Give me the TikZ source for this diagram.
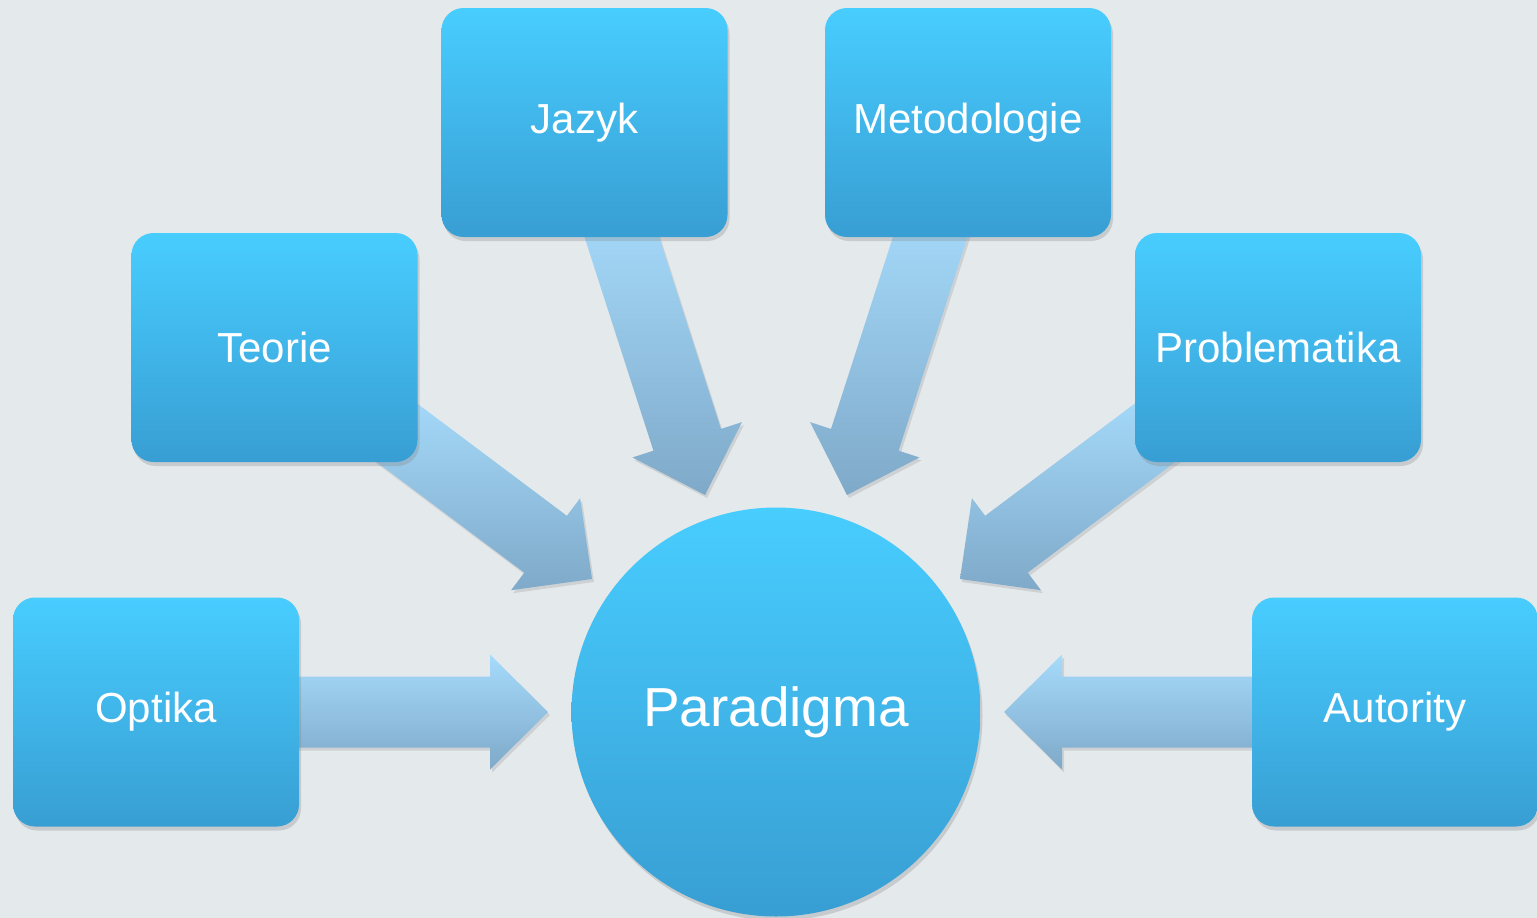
\documentclass[tikz,border=0pt]{standalone}
\usepackage{fontspec}
\setmainfont{Liberation Sans}
\usetikzlibrary{calc,shadows}
\definecolor{bg}{HTML}{E4E9EC}
\definecolor{boxtop}{HTML}{48CDFF}
\definecolor{boxbot}{HTML}{389ED3}
\definecolor{arrtop}{HTML}{A6DBFB}
\definecolor{arrbot}{HTML}{7FA9C9}
\tikzset{
  box/.style={rectangle, rounded corners=22pt, minimum width=286pt, minimum height=229pt,
    inner sep=0pt, top color=boxtop, bottom color=boxbot, draw=none, text=white,
    font=\fontsize{42}{50}\selectfont,
    drop shadow={shadow xshift=2pt, shadow yshift=-4pt, opacity=0.28}},
  hub/.style={circle, minimum size=409pt, inner sep=0pt, top color=boxtop, bottom color=boxbot,
    draw=none, text=white, font=\fontsize{55}{64}\selectfont,
    drop shadow={shadow xshift=2pt, shadow yshift=-4pt, opacity=0.28}},
  arrowfill/.style={top color=arrtop, bottom color=arrbot, draw=none,
    drop shadow={shadow xshift=2pt, shadow yshift=-3pt, opacity=0.22}}
}
\newcommand\blkarrow[2]{%
  \path coordinate (h#1) at ($(#2)!58pt!(#1)$);
  \path[arrowfill] ($(#1)!35.5pt!90:(#2)$) -- ($(h#1)!35.5pt!90:(#2)$) -- ($(h#1)!57.5pt!90:(#2)$)
    -- (#2) -- ($(h#1)!57.5pt!-90:(#2)$) -- ($(h#1)!35.5pt!-90:(#2)$) -- ($(#1)!35.5pt!-90:(#2)$) -- cycle;}
\begin{document}
\begin{tikzpicture}[x=1pt,y=-1pt]
\useasboundingbox (0,0) rectangle (1537,918);
\fill[bg] (0,0) rectangle (1537,918);
% arrow anchors
\coordinate (ja) at (615,216);  \coordinate (jt) at (705,495);
\coordinate (ma) at (937,216);  \coordinate (mt) at (847,495);
\coordinate (ta) at (380,420);  \coordinate (tt) at (592,579);
\coordinate (pa) at (1172,420); \coordinate (pt) at (960,579);
\coordinate (oa) at (290,712);  \coordinate (ot) at (548,712);
\coordinate (aa) at (1262,712); \coordinate (at) at (1004,712);
\blkarrow{ja}{jt}
\blkarrow{ma}{mt}
\blkarrow{ta}{tt}
\blkarrow{pa}{pt}
\blkarrow{oa}{ot}
\blkarrow{aa}{at}
% nodes
\node[box] (jazyk) at (584.5,122.5) {Jazyk};
\node[box] (metod) at (968,122.5) {Metodologie};
\node[box] (teorie) at (274.5,347.5) {Teorie};
\node[box] (probl) at (1278,347.5) {Problematika};
\node[box] (optika) at (156,712) {Optika};
\node[box] (autor) at (1395,712) {Autority};
\node[hub] (para) at (776,712) {Paradigma};
\end{tikzpicture}
\end{document}
